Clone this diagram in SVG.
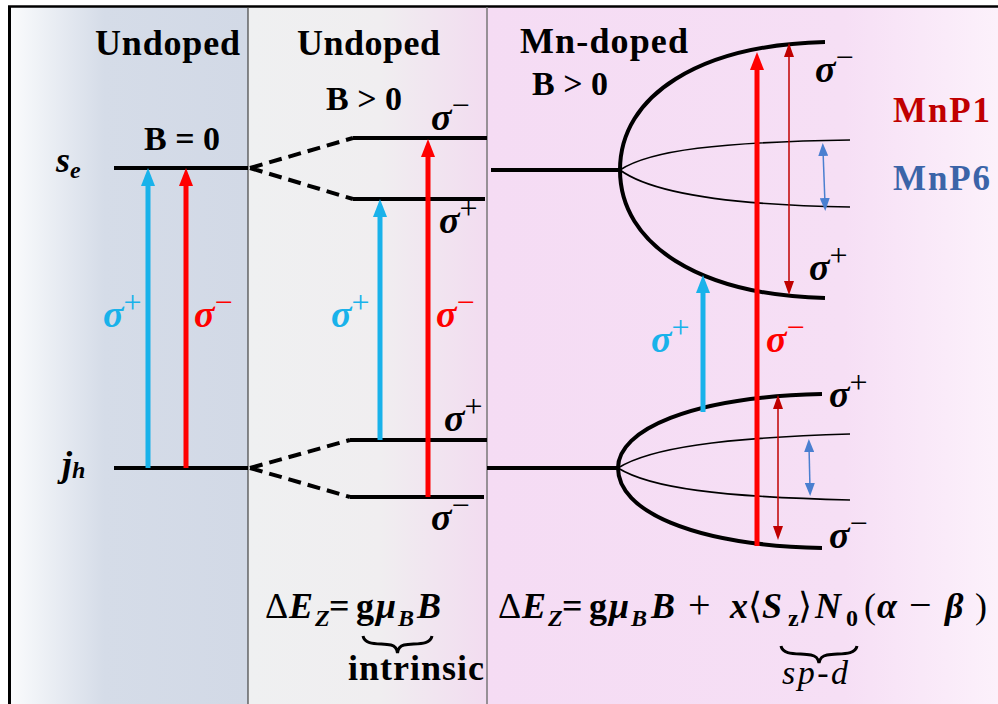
<svg xmlns="http://www.w3.org/2000/svg" width="998" height="704" viewBox="0 0 998 704" font-family="Liberation Serif, serif">
<defs>
  <linearGradient id="g1" gradientUnits="userSpaceOnUse" x1="8" y1="0" x2="248" y2="0">
    <stop offset="0" stop-color="#fbfcfd"/>
    <stop offset="0.4" stop-color="#d5dce8"/>
    <stop offset="1" stop-color="#d2d9e6"/>
  </linearGradient>
  <linearGradient id="g2" gradientUnits="userSpaceOnUse" x1="248" y1="0" x2="487" y2="0">
    <stop offset="0" stop-color="#eff0f1"/>
    <stop offset="0.55" stop-color="#f0eef0"/>
    <stop offset="1" stop-color="#f2dcf0"/>
  </linearGradient>
  <linearGradient id="g3" gradientUnits="userSpaceOnUse" x1="487" y1="0" x2="998" y2="0">
    <stop offset="0" stop-color="#f5dcf4"/>
    <stop offset="0.7" stop-color="#f6dff5"/>
    <stop offset="1" stop-color="#fcf1fb"/>
  </linearGradient>
  <marker id="hBlue" viewBox="0 0 18 14" refX="8" refY="7" markerWidth="18" markerHeight="14" markerUnits="userSpaceOnUse" orient="auto">
    <path d="M0,0 L18,7 L0,14 z" fill="#19b2ea"/>
  </marker>
  <marker id="hRed" viewBox="0 0 18 14" refX="8" refY="7" markerWidth="18" markerHeight="14" markerUnits="userSpaceOnUse" orient="auto">
    <path d="M0,0 L18,7 L0,14 z" fill="#ff0000"/>
  </marker>
  <marker id="hDR" viewBox="0 0 14 10" refX="6" refY="5" markerWidth="14" markerHeight="10" markerUnits="userSpaceOnUse" orient="auto-start-reverse">
    <path d="M0,0 L14,5 L0,10 z" fill="#c00000"/>
  </marker>
  <marker id="hBl" viewBox="0 0 13 10" refX="6" refY="5" markerWidth="13" markerHeight="10" markerUnits="userSpaceOnUse" orient="auto-start-reverse">
    <path d="M0,0 L13,5 L0,10 z" fill="#4a7fd0"/>
  </marker>
</defs>
<style>
  .h{font-size:36px;font-weight:bold}
  .b{font-size:34px;font-weight:bold}
  .it{font-style:italic}
  .sig{font-style:italic;font-weight:bold;font-size:38px}
  .sup{font-style:normal;font-weight:normal;font-size:32px}
  .cb{fill:#19b2ea}
  .cr{fill:#ff0000}
  .lvl{stroke:#000;stroke-width:4;fill:none}
  .dash{stroke:#000;stroke-width:4;stroke-dasharray:13 7;fill:none}
  .thin{stroke:#000;stroke-width:1.6;fill:none}
  .ab{stroke:#19b2ea;stroke-width:5;fill:none;marker-end:url(#hBlue)}
  .ar{stroke:#ff0000;stroke-width:5;fill:none;marker-end:url(#hRed)}
  .adr{stroke:#c00000;stroke-width:1.5;fill:none;marker-start:url(#hDR);marker-end:url(#hDR)}
  .abl{stroke:#4a7fd0;stroke-width:1.5;fill:none;marker-start:url(#hBl);marker-end:url(#hBl)}
  .f{font-size:36px;font-weight:bold}
  .n{font-weight:normal;font-style:normal}
  .s{font-size:24px}
  .brace{stroke:#000;stroke-width:3;fill:none}
</style>

<g id="background">
  <rect x="0" y="0" width="998" height="704" fill="#ffffff"/>
  <rect x="8" y="6" width="240" height="698" fill="url(#g1)"/>
  <rect x="248" y="6" width="239" height="698" fill="url(#g2)"/>
  <rect x="487" y="6" width="511" height="698" fill="url(#g3)"/>
  <line x1="8" y1="6.5" x2="998" y2="6.5" stroke="#000" stroke-width="2.5"/>
  <line x1="9.5" y1="6" x2="9.5" y2="704" stroke="#000" stroke-width="3"/>
  <line x1="248" y1="7" x2="248" y2="704" stroke="#444" stroke-width="1.2"/>
  <line x1="487" y1="7" x2="487" y2="704" stroke="#777" stroke-width="1.5"/>
</g>

<g id="panel-undoped-B0">
  <text class="h" style="font-family:'Liberation Serif',serif" x="95" y="55" textLength="145">Undoped</text>
  <text class="b" style="font-family:'Liberation Serif',serif" x="144" y="150">B = 0</text>
  <text class="it" style="font-family:'Liberation Serif',serif;font-weight:bold" x="56" y="172" font-size="36">s<tspan font-size="24" dy="6">e</tspan></text>
  <text class="it" style="font-family:'Liberation Serif',serif;font-weight:bold" x="62" y="476" font-size="36">j<tspan font-size="24" dy="2">h</tspan></text>
  <line id="se-level" class="lvl" x1="114" y1="168" x2="248" y2="168"/>
  <line id="jh-level" class="lvl" x1="114" y1="468" x2="248" y2="468"/>
  <text class="sig cb" style="font-family:'Liberation Serif',serif" x="103" y="327">σ<tspan class="sup" dy="-14">+</tspan></text>
  <text class="sig cr" style="font-family:'Liberation Serif',serif" x="194" y="327">σ<tspan class="sup" dy="-14">−</tspan></text>
</g>

<g id="panel-undoped-Bpos">
  <text class="h" style="font-family:'Liberation Serif',serif" x="297" y="55" textLength="143">Undoped</text>
  <text class="b" style="font-family:'Liberation Serif',serif" x="326" y="110">B &gt; 0</text>
  <path id="se-split" class="dash" d="M250,168 L353,138 M250,168 L353,199"/>
  <line id="se-minus" class="lvl" x1="353" y1="138" x2="487" y2="138"/>
  <line id="se-plus" class="lvl" x1="353" y1="199" x2="485" y2="199"/>
  <path id="jh-split" class="dash" d="M250,468 L350,440 M250,468 L350,497"/>
  <line id="jh-plus" class="lvl" x1="350" y1="440" x2="487" y2="440"/>
  <line id="jh-minus" class="lvl" x1="350" y1="497" x2="484" y2="497"/>
  <text class="sig" style="font-family:'Liberation Serif',serif" x="431" y="130">σ<tspan class="sup" dy="-14">−</tspan></text>
  <text class="sig" style="font-family:'Liberation Serif',serif" x="439" y="233">σ<tspan class="sup" dy="-14">+</tspan></text>
  <text class="sig" style="font-family:'Liberation Serif',serif" x="444" y="431">σ<tspan class="sup" dy="-14">+</tspan></text>
  <text class="sig" style="font-family:'Liberation Serif',serif" x="431" y="530">σ<tspan class="sup" dy="-14">−</tspan></text>
  <text class="sig cb" style="font-family:'Liberation Serif',serif" x="331" y="327">σ<tspan class="sup" dy="-14">+</tspan></text>
  <text class="sig cr" style="font-family:'Liberation Serif',serif" x="436" y="327">σ<tspan class="sup" dy="-14">−</tspan></text>
</g>

<g id="panel-mn-doped">
  <text class="h" style="font-family:'Liberation Serif',serif" x="520" y="53" textLength="168">Mn-doped</text>
  <text class="b" style="font-family:'Liberation Serif',serif" x="532" y="95">B &gt; 0</text>
  <line id="mn-se-level" class="lvl" x1="491" y1="170" x2="620" y2="170"/>
  <path id="mn-se-outer" class="lvl" d="M825,42 C700,45 620,95 620,170 C620,245 700,295 825,298"/>
  <path id="mn-se-inner" class="thin" d="M850,140 C720,142 650,150 620,170 C650,192 720,205 850,207"/>
  <line id="mn-jh-level" class="lvl" x1="487" y1="468" x2="618" y2="468"/>
  <path id="mn-jh-outer" class="lvl" d="M822,394 C690,397 618,430 618,468 C618,510 690,545 822,548"/>
  <path id="mn-jh-inner" class="thin" d="M850,434 C720,438 650,448 618,468 C650,488 720,497 850,500"/>
  <text class="sig" style="font-family:'Liberation Serif',serif" x="815" y="82">σ<tspan class="sup" dy="-14">−</tspan></text>
  <text class="sig" style="font-family:'Liberation Serif',serif" x="809" y="280">σ<tspan class="sup" dy="-14">+</tspan></text>
  <text class="sig" style="font-family:'Liberation Serif',serif" x="829" y="407">σ<tspan class="sup" dy="-14">+</tspan></text>
  <text class="sig" style="font-family:'Liberation Serif',serif" x="829" y="548">σ<tspan class="sup" dy="-14">−</tspan></text>
  <text class="sig cb" style="font-family:'Liberation Serif',serif" x="651" y="352">σ<tspan class="sup" dy="-14">+</tspan></text>
  <text class="sig cr" style="font-family:'Liberation Serif',serif" x="766" y="352">σ<tspan class="sup" dy="-14">−</tspan></text>
  <text x="893" y="122" style="font-family:'Liberation Serif',serif;font-weight:bold;font-size:35px;fill:#c00000" textLength="97">MnP1</text>
  <text x="893" y="190" style="font-family:'Liberation Serif',serif;font-weight:bold;font-size:35px;fill:#3b64a8" textLength="97">MnP6</text>
</g>

<g id="connectors">
  <line class="ab" x1="148" y1="468" x2="148" y2="178"/>
  <line class="ar" x1="186" y1="468" x2="186" y2="178"/>
  <line class="ab" x1="380" y1="440" x2="380" y2="209"/>
  <line class="ar" x1="428" y1="497" x2="428" y2="149"/>
  <line class="ab" x1="703" y1="412" x2="703" y2="285"/>
  <line class="ar" x1="757" y1="546" x2="757" y2="62"/>
  <line class="adr" x1="789" y1="51" x2="789" y2="287"/>
  <line class="adr" x1="778" y1="403" x2="778" y2="532"/>
  <line class="abl" x1="823" y1="150" x2="825" y2="204"/>
  <line class="abl" x1="809" y1="446" x2="810" y2="489"/>
</g>

<g id="formula-intrinsic">
  <text class="f" style="font-family:'Liberation Serif',serif" y="618"><tspan class="n" x="265">Δ</tspan><tspan class="it" x="289">E</tspan><tspan class="it s" x="315" dy="8">Z</tspan><tspan x="329" dy="-8">=</tspan><tspan x="356">g</tspan><tspan class="it" x="376">μ</tspan><tspan class="it s" x="398" dy="8">B</tspan><tspan class="it" x="417" dy="-8">B</tspan></text>
  <path class="brace" d="M363,636 C365,646 380,643 391,645 C395,646 397,648 397.5,653 C398,648 400,646 404,645 C415,643 430,646 432,636"/>
  <text style="font-family:'Liberation Serif',serif;font-weight:bold;font-size:36px" x="348" y="680" textLength="136">intrinsic</text>
</g>

<g id="formula-mn">
  <text class="f" style="font-family:'Liberation Serif',serif" y="618"><tspan class="n" x="498">Δ</tspan><tspan class="it" x="522">E</tspan><tspan class="it s" x="548" dy="8">Z</tspan><tspan x="562" dy="-8">=</tspan><tspan x="589">g</tspan><tspan class="it" x="609">μ</tspan><tspan class="it s" x="631" dy="8">B</tspan><tspan class="it" x="651" dy="-8">B</tspan><tspan class="n" x="688" style="font-size:40px">+</tspan><tspan class="it" x="730">x</tspan><tspan class="n" x="748">⟨</tspan><tspan class="it" x="762">S</tspan><tspan class="s" x="788" dy="8">z</tspan><tspan class="n" x="798" dy="-8">⟩</tspan><tspan class="it" x="815">N</tspan><tspan class="s" x="846" dy="8">0</tspan><tspan class="n" x="864" dy="-8">(</tspan><tspan class="it" x="877">α</tspan><tspan class="n" x="909" style="font-size:40px">−</tspan><tspan class="it" x="945">β</tspan><tspan class="n" x="975">)</tspan></text>
  <path class="brace" d="M781,646 C783,656 799,653 811,655 C816,656 818,658 819,663 C820,658 822,656 827,655 C839,653 855,656 857,646"/>
  <text x="782" y="684" style="font-family:'Liberation Serif',serif;font-style:italic;font-size:34px" textLength="66">sp-d</text>
</g>
</svg>
